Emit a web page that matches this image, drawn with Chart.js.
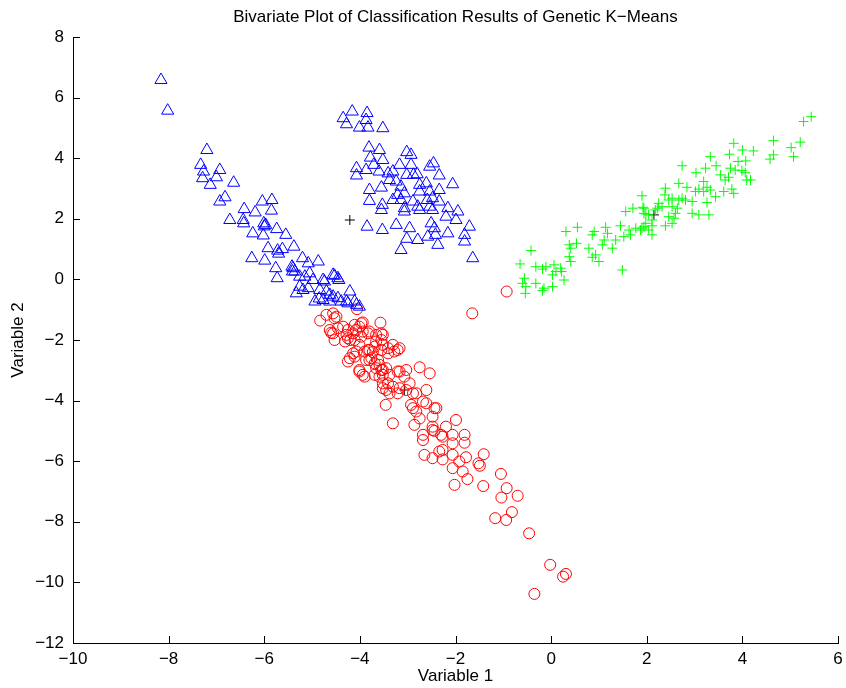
<!DOCTYPE html>
<html>
<head>
<meta charset="utf-8">
<title>Genetic K-Means</title>
<script src="https://cdn.jsdelivr.net/npm/chart.js@4/dist/chart.umd.min.js"></script>
<style>
  body { margin: 0; background: #fff; }
  canvas { display: block; }
</style>
</head>
<body>
<canvas id="plot" width="846" height="688"></canvas>
<script>
// cluster 1 (blue triangles)
let blueX = [-8.16,-8.02,-7.20,-7.33,-7.27,-7.29,-6.93,-7.00,-7.13,-6.64,-6.82,-6.93,-6.72,-6.42,-6.44,-6.43,-6.19,-6.04,-5.84,-5.85,
  -6.01,-6.00,-5.97,-6.24,-5.74,-5.55,-6.02,-5.92,-5.72,-5.62,-5.70,-5.38,-6.26,-5.99,-5.76,-5.73,-5.42,-5.20,-5.08,-4.87,
  -5.40,-5.41,-5.36,-5.26,-5.15,-5.05,-4.98,-4.77,-4.74,-4.56,-4.53,-4.46,-4.44,-5.26,-5.19,-5.08,-5.33,-4.84,-4.70,-4.63,
  -4.56,-4.46,-4.94,-4.77,-4.63,-4.39,-4.28,-4.21,-4.11,-4.07,-4.01,-4.85,-4.25,
  -4.35,-4.16,-4.28,-3.85,-3.87,-4.01,-3.83,-3.52,-3.81,-3.59,-3.78,-3.52,-3.71,-4.07,-3.87,-4.07,-3.60,-3.41,-3.80,-3.55,
  -3.80,-3.53,-3.55,-3.02,-2.93,-3.17,-2.93,-2.54,-2.46,-2.34,-2.06,-3.02,-2.88,-2.80,-3.31,-3.38,-3.24,-3.14,-2.75,-2.61,
  -2.54,-2.34,-3.21,-3.07,-2.75,-3.31,-3.14,-2.89,-2.59,-2.48,-2.34,-3.07,-3.07,-2.79,-2.54,-2.48,-2.75,-2.16,-1.95,-2.20,
  -1.99,-3.85,-3.53,-3.24,-2.96,-3.02,-2.79,-3.14,-2.51,-2.44,-2.42,-2.58,-2.16,-2.37,-1.81,-1.71,-1.81,-1.64];
let blueY = [6.58,5.57,4.27,3.78,3.56,3.34,3.61,3.37,3.12,3.19,2.71,2.57,1.96,2.32,1.96,1.85,2.21,2.57,2.62,2.27,
  1.85,1.75,1.80,1.52,1.66,1.47,1.45,1.03,0.95,1.00,0.85,1.08,0.70,0.62,0.37,0.04,0.42,0.70,0.53,0.59,
  0.37,0.26,0.26,0.09,0.09,0.20,-0.02,-0.02,-0.07,0.15,0.12,0.04,-0.02,-0.24,-0.35,-0.29,-0.46,-0.35,-0.40,-0.51,
  -0.57,-0.62,-0.73,-0.68,-0.73,-0.73,-0.73,-0.40,-0.73,-0.84,-0.90,-0.63,-0.79,
  5.32,5.54,5.12,5.49,5.26,5.01,5.01,4.99,4.35,4.27,4.02,3.94,3.78,3.67,3.61,3.43,3.56,3.50,2.95,3.03,
  2.59,2.46,2.29,4.20,4.11,3.78,3.78,3.72,3.83,3.43,3.14,3.45,3.45,3.47,3.56,3.28,3.23,3.06,3.12,3.17,
  2.90,2.95,2.79,2.84,2.90,2.62,2.62,2.57,2.62,2.68,2.57,2.35,2.24,2.40,2.40,2.29,2.29,2.35,2.24,2.07,
  1.96,1.74,1.63,1.80,1.69,1.34,1.30,0.97,1.85,1.69,1.47,1.41,1.52,1.14,1.47,1.74,1.25,0.70];

// cluster 2 (red circles)
let redX = [-1.65,-0.93,-4.83,-4.70,-4.56,-4.49,-4.06,-4.53,-4.63,-4.56,-4.46,-4.35,-4.25,-4.11,-3.97,-3.94,-3.57,-3.83,-3.66,-3.55,
  -4.53,-4.25,-4.11,-4.01,-3.55,-3.52,-3.69,-4.14,-4.21,-4.11,-3.90,-3.80,-3.76,-3.87,-3.41,-3.31,-3.17,-3.21,-3.69,-3.59,
  -3.55,-3.45,-4.01,-3.94,-3.69,-3.52,-3.38,-3.41,-3.17,-3.03,-3.52,-3.38,-3.17,-3.03,-4.20,-4.31,-4.25,-3.80,-3.62,-3.66,
  -3.90,-3.59,-3.21,-3.07,-2.75,-2.54,-3.52,-3.45,-3.31,-3.21,-3.46,-2.96,-2.89,-2.93,-2.89,-2.82,-2.68,-2.61,-2.44,-2.82,
  -3.31,-2.86,-2.48,-2.68,-2.48,-2.44,-2.20,-1.99,-2.06,-1.81,-2.30,-2.61,-2.40,-2.75,-2.68,-2.48,-2.27,-2.06,-1.81,-2.27,
  -2.34,-2.65,-2.48,-2.27,-2.06,-1.92,-1.78,-2.06,-1.85,-1.75,-2.02,-1.41,-1.52,-1.49,-1.42,-1.05,-0.93,-1.04,-0.70,-0.82,
  -1.17,-0.94,-0.46,-0.02,0.25,0.31,-0.35,-4.60,-4.28,-4.14,-4.01,-3.94,-4.08,-3.97,-3.80,-3.52,-3.66,-3.83,-3.73,-3.55,
  -3.41,-3.28,-4.07,-3.52,-4.01];
let redY = [-1.12,-0.40,-1.36,-1.17,-1.12,-1.23,-0.98,-1.28,-1.67,-1.78,-1.61,-1.56,-1.67,-1.50,-1.45,-1.72,-1.43,-1.78,-1.83,-1.78,
  -2.00,-1.94,-2.00,-2.16,-2.00,-2.16,-2.22,-2.44,-2.60,-2.55,-2.38,-2.33,-2.60,-2.66,-2.27,-2.16,-2.27,-2.33,-2.77,-2.82,
  -2.99,-2.93,-2.99,-3.15,-3.15,-3.15,-3.15,-3.43,-3.04,-2.99,-3.59,-3.76,-3.59,-3.65,-2.00,-2.05,-2.71,-2.66,-2.66,-2.93,
  -3.21,-3.21,-3.04,-3.21,-2.90,-3.10,-3.43,-3.65,-3.54,-3.76,-4.14,-3.43,-3.76,-4.14,-4.25,-4.36,-4.03,-3.65,-4.25,-3.76,
  -4.75,-4.80,-4.53,-5.13,-4.86,-5.00,-4.86,-4.64,-5.13,-5.13,-5.13,-4.09,-4.25,-4.59,-5.30,-4.97,-5.19,-5.41,-5.39,-5.63,
  -5.68,-5.79,-5.90,-5.94,-5.79,-6.01,-5.87,-6.23,-6.34,-6.59,-6.78,-5.77,-6.07,-6.15,-6.82,-6.42,-6.89,-7.20,-7.14,-7.68,
  -7.88,-7.94,-8.38,-9.42,-9.81,-9.72,-10.38,-1.76,-1.83,-1.78,-1.56,-1.42,-1.67,-1.89,-1.72,-1.83,-2.05,-2.33,-2.40,-2.33,
  -2.44,-2.38,-2.38,-2.99,-3.04];

// cluster 3 (green plus signs)
let greenX = [1.90,1.56,1.71,1.92,1.98,2.18,2.11,0.31,0.55,0.90,0.86,1.14,1.18,1.45,1.63,1.77,1.87,1.94,2.04,2.11,
  1.52,1.66,1.35,1.11,1.07,1.28,0.79,0.53,0.38,0.41,0.93,0.86,1.00,0.38,0.41,1.49,-0.42,-0.65,-0.32,-0.18,
  -0.11,0.06,0.20,0.10,0.03,0.22,-0.56,-0.60,-0.53,-0.32,-0.15,-0.18,0.03,0.27,-0.54,5.44,5.28,4.65,5.21,5.02,
  5.07,4.65,4.58,3.82,4.00,4.23,3.73,3.33,3.91,4.07,3.45,3.23,2.74,3.03,3.75,3.85,3.99,4.06,3.54,3.64,
  3.71,4.09,4.17,2.67,2.84,3.19,3.26,3.09,3.33,3.19,2.39,2.38,3.02,3.61,3.78,3.82,3.44,2.74,2.81,2.67,
  2.53,2.46,2.95,3.26,2.25,2.32,2.22,2.53,2.64,2.60,2.95,3.09,3.30,1.94,1.94,2.04,2.46,2.57,1.98,2.11,
  2.39,2.53,1.90];
let greenY = [2.76,2.24,2.35,2.38,2.16,2.29,1.96,1.58,1.72,1.58,1.47,1.72,1.52,1.77,1.63,1.69,1.63,1.74,1.63,1.47,
  1.41,1.47,1.30,1.30,1.14,1.03,1.03,1.19,1.14,1.03,0.81,0.73,0.59,0.75,0.59,0.31,0.95,0.51,0.42,0.34,
  0.42,0.48,0.37,0.26,0.15,0.26,0.04,-0.13,-0.24,-0.13,-0.29,-0.37,-0.24,-0.02,-0.46,5.37,5.21,4.58,4.53,4.35,
  4.05,4.11,3.97,4.49,4.27,4.24,4.13,4.05,3.89,3.91,3.75,3.67,3.75,3.52,3.67,3.61,3.59,3.52,3.45,3.28,
  3.37,3.28,3.28,3.17,3.04,3.23,3.04,2.98,2.95,2.90,3.01,2.79,2.90,2.90,2.98,2.84,2.73,2.68,2.62,2.62,
  2.68,2.62,2.57,2.54,2.51,2.40,2.35,2.40,2.35,2.18,2.18,2.13,2.13,2.35,2.18,2.13,2.07,2.02,1.85,1.77,
  1.77,1.85,1.69];

// cluster centres found by the genetic k-means run
let centerX = [-4.21, -3.07, 2.15];
let centerY = [1.96, -3.65, 2.13];

let xTicks = [-10, -8, -6, -4, -2, 0, 2, 4, 6];
let yTicks = [-12, -10, -8, -6, -4, -2, 0, 2, 4, 6, 8];

function toPoints(xs, ys) {
  return xs.map((x, i) => ({ x: x, y: ys[i] }));
}

function minusSign(v) {
  return String(v).replace('-', '\u2212');
}

let labelFont = { family: 'Liberation Sans, Arial, sans-serif', size: 17 };

// matlab style ticks, pointing into the plot
let innerTicks = {
  id: 'innerTicks',
  afterDraw(chart) {
    let ctx = chart.ctx;
    let xs = chart.scales.x, ys = chart.scales.y;
    let area = chart.chartArea;
    ctx.save();
    ctx.strokeStyle = '#000';
    ctx.lineWidth = 1;
    ctx.beginPath();
    xTicks.forEach(v => {
      let px = Math.round(xs.getPixelForValue(v)) + 0.5;
      ctx.moveTo(px, area.bottom);
      ctx.lineTo(px, area.bottom - 7);
    });
    yTicks.forEach(v => {
      let py = Math.round(ys.getPixelForValue(v)) + 0.5;
      ctx.moveTo(area.left, py);
      ctx.lineTo(area.left + 7, py);
    });
    ctx.stroke();
    ctx.restore();
  }
};

new Chart(document.getElementById('plot'), {
  type: 'scatter',
  data: {
    datasets: [
      {
        data: toPoints(blueX, blueY),
        pointStyle: 'triangle',
        pointRadius: 7,
        borderColor: '#0000ff',
        backgroundColor: 'rgba(0,0,0,0)',
        borderWidth: 1
      },
      {
        data: toPoints(redX, redY),
        pointStyle: 'circle',
        pointRadius: 5.5,
        borderColor: '#ff0000',
        backgroundColor: 'rgba(0,0,0,0)',
        borderWidth: 1
      },
      {
        data: toPoints(greenX, greenY),
        pointStyle: 'cross',
        pointRadius: 5,
        borderColor: '#00ff00',
        backgroundColor: 'rgba(0,0,0,0)',
        borderWidth: 1
      },
      {
        data: toPoints(centerX, centerY),
        pointStyle: 'cross',
        pointRadius: 5,
        borderColor: '#000000',
        borderWidth: 1
      }
    ]
  },
  options: {
    responsive: false,
    animation: false,
    events: [],
    layout: { padding: { left: 0, right: 6, top: 0, bottom: 0 } },
    plugins: {
      legend: { display: false },
      tooltip: { enabled: false }
    },
    scales: {
      x: {
        type: 'linear',
        min: -10,
        max: 6,
        afterBuildTicks: s => { s.ticks = xTicks.map(v => ({ value: v })); },
        afterFit: s => { s.height = 45; s.paddingLeft = 0; s.paddingRight = 0; },
        grid: { display: false, drawTicks: false },
        border: { display: true, color: '#000', width: 1 },
        ticks: { color: '#000', font: labelFont, padding: 6, maxRotation: 0, callback: v => minusSign(v) },
        title: { display: true, text: 'Variable 1', color: '#000', font: labelFont, padding: { top: 0, bottom: 1 } }
      },
      // empty top axis, only used to centre the title over the plot box
      top: {
        type: 'linear',
        position: 'top',
        min: -10,
        max: 6,
        afterFit: s => { s.height = 37; s.paddingLeft = 0; s.paddingRight = 0; },
        grid: { display: false, drawTicks: false },
        border: { display: false },
        ticks: { display: false },
        title: {
          display: true,
          text: 'Bivariate Plot of Classification Results of Genetic K\u2212Means',
          color: '#000',
          font: labelFont,
          padding: { top: 7, bottom: 10 }
        }
      },
      y: {
        type: 'linear',
        min: -12,
        max: 8,
        afterBuildTicks: s => { s.ticks = yTicks.map(v => ({ value: v })); },
        afterFit: s => { s.width = 73; s.paddingTop = 0; s.paddingBottom = 0; },
        grid: { display: false, drawTicks: false },
        border: { display: true, color: '#000', width: 1 },
        ticks: { color: '#000', font: labelFont, padding: 9, callback: v => minusSign(v) },
        title: { display: true, text: 'Variable 2', color: '#000', font: labelFont, padding: { top: 8, bottom: 0 } }
      }
    }
  },
  plugins: [innerTicks]
});
</script>
</body>
</html>
